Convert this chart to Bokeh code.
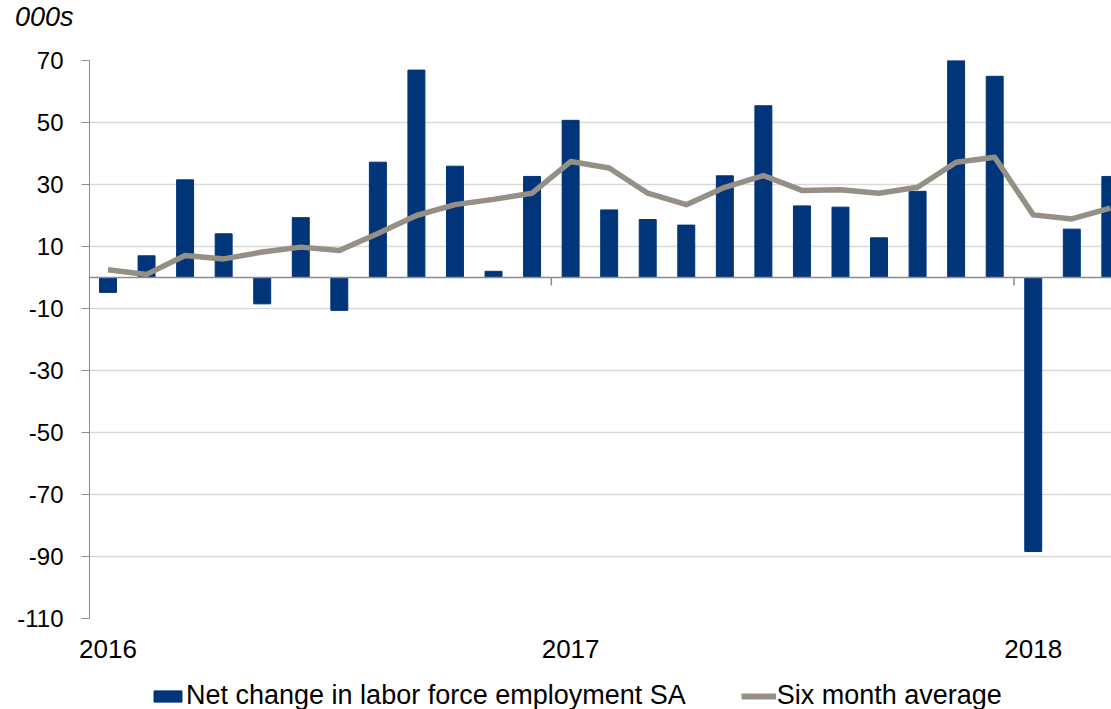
from bokeh.plotting import figure
from bokeh.models import Range1d, FixedTicker, LinearAxis, Span, Legend, LegendItem, Div
from bokeh.layouts import column
from bokeh.embed import file_html
from bokeh.resources import INLINE

# Data (thousands), monthly Jan 2016 - Mar 2018
months = list(range(27))
net_change = [-4.8, 7.0, 31.5, 14.1, -8.5, 19.3, -10.6, 37.2, 66.9, 35.9, 2.0, 32.6,
              50.7, 21.8, 18.7, 16.9, 32.8, 55.4, 23.1, 22.7, 12.8, 27.8, 70.2, 64.9,
              -88.4, 15.6, 32.6]
six_month_avg = [2.5, 1.0, 7.1, 6.0, 8.2, 9.8, 8.7, 14.2, 20.0, 23.5, 25.2, 27.2,
                 37.4, 35.3, 27.2, 23.5, 29.1, 32.9, 28.1, 28.3, 27.2, 29.1, 37.2, 38.8,
                 20.2, 18.9, 22.4]
year_ticks = [0, 12, 24]
year_labels = {0: "2016", 12: "2017", 24: "2018"}
year_boundaries = [11.5, 23.5]
y_ticks = [70, 50, 30, 10, -10, -30, -50, -70, -90, -110]
y_labels = {t: str(t) for t in y_ticks}
unit_text = "000s"
series_names = ["Net change in labor force employment SA", "Six month average"]

FONT = "Liberation Sans"
BAR = "#00357A"
LINE = "#958F86"

p = figure(frame_width=1022, frame_height=558, output_backend="svg", toolbar_location=None,
           x_range=Range1d(-0.48, 26.03), y_range=Range1d(-110, 70),
           x_axis_location=None, y_axis_location=None,
           min_border_left=89, min_border_top=30, min_border_right=0, min_border_bottom=48)
p.outline_line_color = None
p.background_fill_color = "white"
p.border_fill_color = "white"

# y axis
yax = LinearAxis(ticker=FixedTicker(ticks=y_ticks), major_label_overrides=y_labels)
yax.axis_line_color = "#8c8c8c"
yax.axis_line_width = 1
yax.major_tick_line_color = "#8c8c8c"
yax.major_tick_out = 8
yax.major_tick_in = 0
yax.minor_tick_line_color = None
yax.major_label_text_font = FONT
yax.major_label_text_font_size = "24px"
yax.major_label_text_color = "black"
yax.major_label_standoff = 18
p.add_layout(yax, "left")

# x axis (labels only)
xax = LinearAxis(ticker=FixedTicker(ticks=year_ticks), major_label_overrides=year_labels)
xax.axis_line_color = None
xax.major_tick_line_color = None
xax.minor_tick_line_color = None
xax.major_label_text_font = FONT
xax.major_label_text_font_size = "26px"
xax.major_label_text_color = "black"
xax.major_label_standoff = 15
p.add_layout(xax, "below")

p.ygrid.ticker = FixedTicker(ticks=y_ticks)
p.ygrid.grid_line_color = "#d9d9d9"
p.ygrid.grid_line_width = 1.5
p.xgrid.grid_line_color = None

p.vbar(x=months, top=net_change, bottom=0, width=0.44, fill_color=BAR, line_color=BAR)
zero = Span(location=0, dimension="width", line_color="#8c8c8c", line_width=1.5)
p.add_layout(zero)
p.segment(x0=year_boundaries, x1=year_boundaries, y0=[0, 0], y1=[-2.6, -2.6],
          line_color="#8c8c8c", line_width=1.5)
p.line(x=months, y=six_month_avg, line_color=LINE, line_width=5.5, line_join="round")

# legend strip: a small figure whose view lies away from the data, so only the legend shows
lg = figure(width=1111, height=43, output_backend="svg", toolbar_location=None,
            x_range=Range1d(1000, 1001), y_range=Range1d(1000, 1001),
            x_axis_location=None, y_axis_location=None, min_border=0)
lg.outline_line_color = None
lg.xgrid.grid_line_color = None
lg.ygrid.grid_line_color = None
r_bar = lg.vbar(x=months, top=net_change, bottom=0, width=0.44, fill_color=BAR, line_color=BAR)
r_line = lg.line(x=months, y=six_month_avg, line_color=LINE, line_width=6)

legend = Legend(items=[LegendItem(label=series_names[0], renderers=[r_bar]),
                       LegendItem(label=series_names[1], renderers=[r_line])],
                orientation="horizontal", location=(61, -2))
legend.label_text_font = FONT
legend.label_text_font_size = "27px"
legend.label_text_color = "black"
legend.label_standoff = 1
legend.glyph_width = 35
legend.glyph_height = 14
legend.spacing = 55
legend.padding = 0
legend.margin = 0
legend.border_line_color = None
legend.background_fill_alpha = 0
lg.add_layout(legend, "center")

header = Div(text=f'<div style="font-family:\'{FONT}\';font-size:27px;font-style:italic;'
                  f'line-height:27px;padding:4px 0 0 15px;color:black;">{unit_text}</div>',
             width=1111, height=30, margin=(0, 0, 0, 0))

layout = column(header, p, lg, spacing=0, margin=(0, 0, 0, 0))

open("out.html", "w").write(file_html(layout, INLINE))
